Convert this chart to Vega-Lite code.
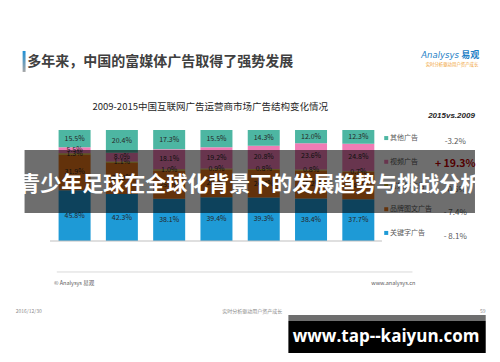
{
  "$schema": "https://vega.github.io/schema/vega-lite/v6.json",
  "width": 435.6,
  "height": 111,
  "autosize": {"type": "none"},
  "padding": {"left": 45, "top": 130, "right": 19.4, "bottom": 121},
  "background": "white",
  "config": {"view": {"stroke": null}, "font": "Noto Sans CJK SC", "axis": {"labelOverlap": false, "labelFlush": false, "labelBound": false}},
  "resolve": {"scale": {"y": "independent"}},
  "layer": [
    {
      "data": {"values": [
        {"year": 2009, "category": "关键字广告", "share": 45.8},
        {"year": 2009, "category": "品牌图文广告", "share": 31.9},
        {"year": 2009, "category": "富媒体广告", "share": 1.3},
        {"year": 2009, "category": "视频广告", "share": 5.5},
        {"year": 2009, "category": "其他广告", "share": 15.5},
        {"year": 2010, "category": "关键字广告", "share": 42.3},
        {"year": 2010, "category": "品牌图文广告", "share": 28.2},
        {"year": 2010, "category": "富媒体广告", "share": 1.1},
        {"year": 2010, "category": "视频广告", "share": 8.0},
        {"year": 2010, "category": "其他广告", "share": 20.4},
        {"year": 2011, "category": "关键字广告", "share": 38.1},
        {"year": 2011, "category": "品牌图文广告", "share": 25.5},
        {"year": 2011, "category": "富媒体广告", "share": 1.0},
        {"year": 2011, "category": "视频广告", "share": 18.1},
        {"year": 2011, "category": "其他广告", "share": 17.3},
        {"year": 2012, "category": "关键字广告", "share": 39.4},
        {"year": 2012, "category": "品牌图文广告", "share": 25.0},
        {"year": 2012, "category": "富媒体广告", "share": 0.9},
        {"year": 2012, "category": "视频广告", "share": 19.2},
        {"year": 2012, "category": "其他广告", "share": 15.5},
        {"year": 2013, "category": "关键字广告", "share": 39.3},
        {"year": 2013, "category": "品牌图文广告", "share": 24.8},
        {"year": 2013, "category": "富媒体广告", "share": 0.8},
        {"year": 2013, "category": "视频广告", "share": 20.8},
        {"year": 2013, "category": "其他广告", "share": 14.3},
        {"year": 2014, "category": "关键字广告", "share": 38.4},
        {"year": 2014, "category": "品牌图文广告", "share": 25.2},
        {"year": 2014, "category": "富媒体广告", "share": 0.8},
        {"year": 2014, "category": "视频广告", "share": 23.6},
        {"year": 2014, "category": "其他广告", "share": 12.0},
        {"year": 2015, "category": "关键字广告", "share": 37.7},
        {"year": 2015, "category": "品牌图文广告", "share": 24.5},
        {"year": 2015, "category": "富媒体广告", "share": 0.7},
        {"year": 2015, "category": "视频广告", "share": 24.8},
        {"year": 2015, "category": "其他广告", "share": 12.3}
      ]},
      "transform": [
        {"calculate": "indexof(['关键字广告','品牌图文广告','富媒体广告','视频广告','其他广告'], datum.category)", "as": "ord"},
        {"stack": "share", "groupby": ["year"], "sort": [{"field": "ord", "order": "ascending"}], "as": ["y0", "y1"]},
        {"calculate": "(datum.y0 + datum.y1) / 2", "as": "ymid"},
        {"calculate": "format(datum.share, '.1f') + '%'", "as": "label"}
      ],
      "layer": [
        {
          "mark": {"type": "bar", "size": 32},
          "encoding": {
            "x": {"field": "year", "type": "quantitative", "scale": {"domain": [2008.48, 2017.48], "nice": false, "zero": false},
              "axis": {"values": [2009, 2010, 2011, 2012, 2013, 2014, 2015], "format": "d", "ticks": false, "domain": false, "grid": false, "title": null, "labelFontSize": 6.5, "labelColor": "#595959", "labelPadding": 6, "labelOverlap": false}},
            "y": {"field": "y0", "type": "quantitative", "scale": {"domain": [0, 100], "nice": false, "zero": false},
              "axis": {"values": [0, 20, 40, 60, 80, 100], "labelExpr": "datum.value + '%'", "grid": false, "title": null, "domainColor": "#bfbfbf", "tickColor": "#bfbfbf", "tickSize": 3, "labelFontSize": 7, "labelColor": "#595959", "labelPadding": 2, "labelOverlap": false}},
            "y2": {"field": "y1"},
            "color": {"field": "category", "type": "nominal",
              "scale": {"domain": ["关键字广告", "品牌图文广告", "富媒体广告", "视频广告", "其他广告"], "range": ["#1e9ad6", "#e5741a", "#d4b020", "#f07cb5", "#4db6a2"]},
              "legend": null}
          }
        },
        {
          "mark": {"type": "text", "fontSize": 7, "color": "#262626"},
          "encoding": {
            "x": {"field": "year", "type": "quantitative", "scale": {"domain": [2008.48, 2017.48], "nice": false, "zero": false}, "axis": null},
            "y": {"field": "ymid", "type": "quantitative", "scale": {"domain": [0, 100], "nice": false, "zero": false}, "axis": null},
            "text": {"field": "label"}
          }
        }
      ]
    },
    {
      "data": {"values": [
        {"category": "其他广告", "diff": "-3.2%"},
        {"category": "视频广告", "diff": "+ 19.3%"},
        {"category": "富媒体广告", "diff": "-0.6%"},
        {"category": "品牌图文广告", "diff": "- 7.4%"},
        {"category": "关键字广告", "diff": "- 8.1%"}
      ]},
      "encoding": {
        "y": {"field": "category", "type": "nominal", "sort": ["其他广告", "视频广告", "富媒体广告", "品牌图文广告", "关键字广告"], "scale": {"type": "point", "padding": 0.34}, "axis": null}
      },
      "layer": [
        {
          "mark": {"type": "point", "shape": "square", "filled": true, "size": 16, "opacity": 1},
          "encoding": {
            "x": {"datum": 2015.59, "scale": {"domain": [2008.48, 2017.48], "nice": false, "zero": false}, "axis": null},
            "color": {"field": "category", "type": "nominal",
              "scale": {"domain": ["关键字广告", "品牌图文广告", "富媒体广告", "视频广告", "其他广告"], "range": ["#1e9ad6", "#e5741a", "#d4b020", "#f07cb5", "#4db6a2"]},
              "legend": null}
          }
        },
        {
          "mark": {"type": "text", "align": "left", "fontSize": 7, "color": "#595959"},
          "encoding": {
            "x": {"datum": 2015.67, "scale": {"domain": [2008.48, 2017.48], "nice": false, "zero": false}, "axis": null},
            "text": {"field": "category"}
          }
        },
        {
          "transform": [{"filter": "datum.category != '视频广告'"}],
          "mark": {"type": "text", "fontSize": 8, "color": "#595959", "dy": 4},
          "encoding": {
            "x": {"datum": 2017.05, "scale": {"domain": [2008.48, 2017.48], "nice": false, "zero": false}, "axis": null},
            "text": {"field": "diff"}
          }
        },
        {
          "transform": [{"filter": "datum.category == '视频广告'"}],
          "mark": {"type": "text", "fontSize": 10.5, "fontWeight": "bold", "color": "#c00000", "dy": 2},
          "encoding": {
            "x": {"datum": 2017.05, "scale": {"domain": [2008.48, 2017.48], "nice": false, "zero": false}, "axis": null},
            "text": {"field": "diff"}
          }
        }
      ]
    },
    {
      "data": {"values": [
        {"t": "多年来，中国的富媒体广告取得了强势发展", "chart": "2009-2015中国互联网广告运营商市场广告结构变化情况", "cmp": "2015vs.2009", "brand": "Analysys", "brandcn": "易观", "slogan": "实时分析驱动用户资产成长", "copy": "© Analysys 易观", "site": "www.analysys.cn", "date": "2016/12/30", "page": "59", "mark": "www.tap--kaiyun.com", "banner": "青少年足球在全球化背景下的发展趋势与挑战分析"}
      ]},
      "layer": [
        {
          "mark": {"type": "rule", "color": "#bfbfbf", "strokeWidth": 1},
          "encoding": {
            "x": {"datum": 2008.48, "scale": {"domain": [2008.48, 2017.48], "nice": false, "zero": false}, "axis": null},
            "x2": {"datum": 2015.5},
            "y": {"datum": 0, "scale": {"domain": [0, 100], "nice": false, "zero": false}, "axis": null}
          }
        },
        {
          "mark": {"type": "rect", "color": {"gradient": "linear", "x1": 0, "y1": 0, "x2": 0, "y2": 1, "stops": [{"offset": 0, "color": "#1e90d6"}, {"offset": 1, "color": "#a6a6a6"}]}},
          "encoding": {
            "x": {"datum": 2007.901, "scale": {"domain": [2008.48, 2017.48], "nice": false, "zero": false}, "axis": null},
            "x2": {"datum": 2007.963},
            "y": {"datum": 171.2, "scale": {"domain": [0, 100], "nice": false, "zero": false}, "axis": null},
            "y2": {"datum": 152.3}
          }
        },
        {
          "mark": {"type": "text", "align": "left", "fontSize": 14, "fontWeight": "bold", "color": "#404040"},
          "encoding": {
            "x": {"datum": 2008.0, "scale": {"domain": [2008.48, 2017.48], "nice": false, "zero": false}, "axis": null},
            "y": {"datum": 161.3, "scale": {"domain": [0, 100], "nice": false, "zero": false}, "axis": null},
            "text": {"field": "t"}
          }
        },
        {
          "mark": {"type": "text", "align": "left", "fontSize": 8.5, "fontStyle": "italic", "color": "#1f7fc6", "font": "DejaVu Sans"},
          "encoding": {
            "x": {"datum": 2016.331, "scale": {"domain": [2008.48, 2017.48], "nice": false, "zero": false}, "axis": null},
            "y": {"datum": 167.6, "scale": {"domain": [0, 100], "nice": false, "zero": false}, "axis": null},
            "text": {"field": "brand"}
          }
        },
        {
          "mark": {"type": "text", "align": "left", "fontSize": 9, "fontWeight": "bold", "color": "#1f7fc6"},
          "encoding": {
            "x": {"datum": 2017.178, "scale": {"domain": [2008.48, 2017.48], "nice": false, "zero": false}, "axis": null},
            "y": {"datum": 167.6, "scale": {"domain": [0, 100], "nice": false, "zero": false}, "axis": null},
            "text": {"field": "brandcn"}
          }
        },
        {
          "mark": {"type": "text", "fontSize": 4.4, "color": "#f0a030"},
          "encoding": {
            "x": {"datum": 2016.981, "scale": {"domain": [2008.48, 2017.48], "nice": false, "zero": false}, "axis": null},
            "y": {"datum": 158.6, "scale": {"domain": [0, 100], "nice": false, "zero": false}, "axis": null},
            "text": {"field": "slogan"}
          }
        },
        {
          "mark": {"type": "text", "fontSize": 9.5, "color": "#262626"},
          "encoding": {
            "x": {"datum": 2011.868, "scale": {"domain": [2008.48, 2017.48], "nice": false, "zero": false}, "axis": null},
            "y": {"datum": 120.7, "scale": {"domain": [0, 100], "nice": false, "zero": false}, "axis": null},
            "text": {"field": "chart"}
          }
        },
        {
          "mark": {"type": "text", "fontSize": 8, "fontWeight": "bold", "fontStyle": "italic", "color": "#262626", "font": "Liberation Sans"},
          "encoding": {
            "x": {"datum": 2016.971, "scale": {"domain": [2008.48, 2017.48], "nice": false, "zero": false}, "axis": null},
            "y": {"datum": 112.6, "scale": {"domain": [0, 100], "nice": false, "zero": false}, "axis": null},
            "text": {"field": "cmp"}
          }
        },
        {
          "mark": {"type": "rule", "color": "#d9d9d9", "strokeWidth": 1},
          "encoding": {
            "x": {"datum": 2008.624, "scale": {"domain": [2008.48, 2017.48], "nice": false, "zero": false}, "axis": null},
            "x2": {"datum": 2016.145},
            "y": {"datum": -27.9, "scale": {"domain": [0, 100], "nice": false, "zero": false}, "axis": null}
          }
        },
        {
          "mark": {"type": "text", "align": "left", "fontSize": 5.5, "color": "#595959"},
          "encoding": {
            "x": {"datum": 2008.562, "scale": {"domain": [2008.48, 2017.48], "nice": false, "zero": false}, "axis": null},
            "y": {"datum": -37.8, "scale": {"domain": [0, 100], "nice": false, "zero": false}, "axis": null},
            "text": {"field": "copy"}
          }
        },
        {
          "mark": {"type": "text", "align": "right", "fontSize": 5.5, "color": "#595959"},
          "encoding": {
            "x": {"datum": 2016.206, "scale": {"domain": [2008.48, 2017.48], "nice": false, "zero": false}, "axis": null},
            "y": {"datum": -37.8, "scale": {"domain": [0, 100], "nice": false, "zero": false}, "axis": null},
            "text": {"field": "site"}
          }
        },
        {
          "mark": {"type": "text", "align": "left", "fontSize": 5, "color": "#8c8c8c"},
          "encoding": {
            "x": {"datum": 2007.756, "scale": {"domain": [2008.48, 2017.48], "nice": false, "zero": false}, "axis": null},
            "y": {"datum": -63.1, "scale": {"domain": [0, 100], "nice": false, "zero": false}, "axis": null},
            "text": {"field": "date"}
          }
        },
        {
          "mark": {"type": "text", "fontSize": 5, "color": "#8c8c8c"},
          "encoding": {
            "x": {"datum": 2012.756, "scale": {"domain": [2008.48, 2017.48], "nice": false, "zero": false}, "axis": null},
            "y": {"datum": -63.1, "scale": {"domain": [0, 100], "nice": false, "zero": false}, "axis": null},
            "text": {"field": "slogan"}
          }
        },
        {
          "mark": {"type": "text", "fontSize": 5, "color": "#8c8c8c"},
          "encoding": {
            "x": {"datum": 2017.632, "scale": {"domain": [2008.48, 2017.48], "nice": false, "zero": false}, "axis": null},
            "y": {"datum": -63.1, "scale": {"domain": [0, 100], "nice": false, "zero": false}, "axis": null},
            "text": {"field": "page"}
          }
        },
        {
          "mark": {"type": "rect", "color": "#6e6e6e"},
          "encoding": {
            "x": {"datum": 2013.521, "scale": {"domain": [2008.48, 2017.48], "nice": false, "zero": false}, "axis": null},
            "x2": {"datum": 2017.694},
            "y": {"datum": -66.7, "scale": {"domain": [0, 100], "nice": false, "zero": false}, "axis": null},
            "y2": {"datum": -72.1}
          }
        },
        {
          "mark": {"type": "rect", "color": "#000000"},
          "encoding": {
            "x": {"datum": 2013.521, "scale": {"domain": [2008.48, 2017.48], "nice": false, "zero": false}, "axis": null},
            "x2": {"datum": 2017.694},
            "y": {"datum": -72.1, "scale": {"domain": [0, 100], "nice": false, "zero": false}, "axis": null},
            "y2": {"datum": -100.9}
          }
        },
        {
          "mark": {"type": "text", "fontSize": 17, "fontWeight": "bold", "color": "#ffffff", "font": "Open Sans"},
          "encoding": {
            "x": {"datum": 2015.587, "scale": {"domain": [2008.48, 2017.48], "nice": false, "zero": false}, "axis": null},
            "y": {"datum": -86.5, "scale": {"domain": [0, 100], "nice": false, "zero": false}, "axis": null},
            "text": {"field": "mark"}
          }
        },
        {
          "mark": {"type": "rect", "color": "#000000", "opacity": 0.57},
          "encoding": {
            "x": {"datum": 2007.942, "scale": {"domain": [2008.48, 2017.48], "nice": false, "zero": false}, "axis": null},
            "x2": {"datum": 2017.467},
            "y": {"datum": 82, "scale": {"domain": [0, 100], "nice": false, "zero": false}, "axis": null},
            "y2": {"datum": 25.2}
          }
        },
        {
          "mark": {"type": "text", "fontSize": 21, "fontWeight": "bold", "color": "#ffffff"},
          "encoding": {
            "x": {"datum": 2012.715, "scale": {"domain": [2008.48, 2017.48], "nice": false, "zero": false}, "axis": null},
            "y": {"datum": 50.5, "scale": {"domain": [0, 100], "nice": false, "zero": false}, "axis": null},
            "text": {"field": "banner"}
          }
        }
      ]
    }
  ]
}
